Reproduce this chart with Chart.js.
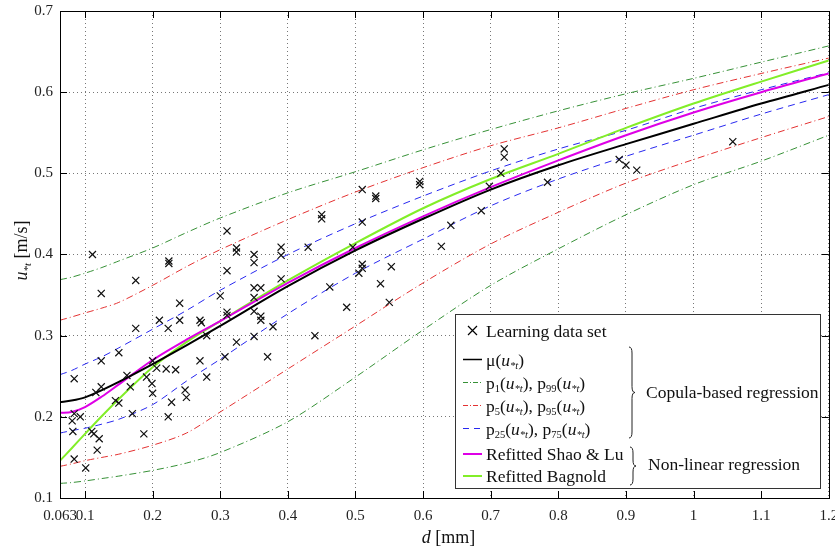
<!DOCTYPE html>
<html>
<head>
<meta charset="utf-8">
<script src="https://cdn.jsdelivr.net/npm/chart.js@4.4.0/dist/chart.umd.min.js"></script>
<style>
  html, body { margin: 0; padding: 0; background: #fff; }
  #wrap { width: 835px; height: 549px; }
</style>
</head>
<body>
<div id="wrap"><canvas id="chart" width="835" height="549"></canvas></div>
<script>
// axis ticks
const xTickVals = [0.063, 0.1, 0.2, 0.3, 0.4, 0.5, 0.6, 0.7, 0.8, 0.9, 1, 1.1, 1.2];
const yTickVals = [0.1, 0.2, 0.3, 0.4, 0.5, 0.6, 0.7];

// grain sizes where the fitted curves are sampled
const curveD   = [0.063, 0.08, 0.1, 0.125, 0.15, 0.2, 0.25, 0.3, 0.4, 0.5, 0.6, 0.7, 0.8, 0.9, 1.0, 1.1, 1.2];
const muU      = [0.218, 0.220, 0.224, 0.233, 0.243, 0.265, 0.288, 0.312, 0.361, 0.405, 0.444, 0.480, 0.510, 0.536, 0.561, 0.586, 0.609];
const p1U      = [0.118, 0.119, 0.121, 0.124, 0.127, 0.134, 0.143, 0.156, 0.194, 0.249, 0.307, 0.362, 0.407, 0.449, 0.486, 0.515, 0.547];
const p99U     = [0.369, 0.372, 0.377, 0.384, 0.392, 0.408, 0.427, 0.445, 0.476, 0.502, 0.529, 0.554, 0.577, 0.598, 0.617, 0.637, 0.657];
const p5U      = [0.139, 0.142, 0.146, 0.150, 0.154, 0.165, 0.180, 0.206, 0.259, 0.312, 0.365, 0.413, 0.452, 0.488, 0.517, 0.544, 0.570];
const p95U     = [0.319, 0.323, 0.328, 0.334, 0.341, 0.362, 0.385, 0.406, 0.443, 0.477, 0.507, 0.534, 0.556, 0.580, 0.603, 0.623, 0.642];
const p25U     = [0.180, 0.183, 0.186, 0.191, 0.197, 0.215, 0.244, 0.271, 0.327, 0.377, 0.419, 0.460, 0.493, 0.521, 0.547, 0.573, 0.597];
const p75U     = [0.252, 0.257, 0.265, 0.274, 0.285, 0.308, 0.331, 0.356, 0.400, 0.438, 0.472, 0.503, 0.530, 0.553, 0.580, 0.603, 0.624];
const shaoLuU  = [0.205, 0.206, 0.212, 0.225, 0.240, 0.270, 0.295, 0.318, 0.365, 0.408, 0.447, 0.483, 0.516, 0.547, 0.575, 0.600, 0.623];
const bagnoldU = [0.146, 0.161, 0.179, 0.201, 0.222, 0.261, 0.292, 0.318, 0.368, 0.414, 0.457, 0.493, 0.524, 0.556, 0.586, 0.613, 0.639];

// learning data set
const learnD = [0.111, 0.224, 0.224, 0.175, 0.124, 0.240, 0.210, 0.240, 0.223, 0.175,
                0.124, 0.150, 0.084, 0.200, 0.206, 0.220, 0.234, 0.162, 0.167, 0.124,
                0.116, 0.191, 0.199, 0.200, 0.145, 0.150, 0.170, 0.228, 0.248, 0.250,
                0.223, 0.084, 0.081, 0.093, 0.082, 0.110, 0.113, 0.121, 0.118, 0.084,
                0.101, 0.187, 0.270, 0.280, 0.307, 0.370, 0.310, 0.324, 0.324, 0.350,
                0.350, 0.390, 0.390, 0.430, 0.310, 0.390, 0.300, 0.350, 0.360, 0.350,
                0.350, 0.360, 0.360, 0.378, 0.310, 0.310, 0.270, 0.272, 0.280, 0.324,
                0.350, 0.440, 0.510, 0.530, 0.530, 0.595, 0.595, 0.450, 0.450, 0.510,
                0.686, 0.641, 0.627, 0.496, 0.510, 0.510, 0.505, 0.553, 0.537, 0.462,
                0.550, 0.487, 0.720, 0.720, 0.715, 0.698, 0.784, 0.890, 0.900, 0.916,
                1.058];
const learnU = [0.400, 0.392, 0.389, 0.368, 0.352, 0.340, 0.319, 0.319, 0.309, 0.309,
                0.269, 0.279, 0.247, 0.269, 0.260, 0.259, 0.258, 0.251, 0.237, 0.237,
                0.230, 0.249, 0.241, 0.229, 0.220, 0.217, 0.204, 0.218, 0.233, 0.224,
                0.200, 0.204, 0.195, 0.200, 0.182, 0.182, 0.179, 0.173, 0.159, 0.148,
                0.137, 0.179, 0.269, 0.249, 0.274, 0.274, 0.429, 0.408, 0.403, 0.400,
                0.390, 0.409, 0.399, 0.409, 0.380, 0.370, 0.349, 0.359, 0.359, 0.347,
                0.330, 0.324, 0.319, 0.311, 0.329, 0.325, 0.319, 0.316, 0.300, 0.292,
                0.299, 0.300, 0.480, 0.472, 0.469, 0.490, 0.486, 0.449, 0.444, 0.440,
                0.454, 0.436, 0.410, 0.409, 0.388, 0.383, 0.377, 0.385, 0.364, 0.360,
                0.341, 0.335, 0.530, 0.520, 0.500, 0.484, 0.489, 0.517, 0.510, 0.504,
                0.539];

const C_GREEN = 'rgb(55,145,55)';
const C_RED = 'rgb(228,50,50)';
const C_BLUE = 'rgb(40,40,240)';
const C_MAG = 'rgb(222,0,230)';
const C_LIME = 'rgb(130,238,40)';
const DASHDOT = [7, 3, 1, 3];
const DASH = [7, 5];
const FONT = '"Liberation Serif", "DejaVu Serif", serif';

const pts = ys => curveD.map((d, i) => ({ x: d, y: ys[i] }));

function lineSet(label, ys, color, width, dash) {
  return {
    type: 'line', label, data: pts(ys),
    borderColor: color, borderWidth: width, borderDash: dash || [],
    pointRadius: 0, fill: false, tension: 0.3
  };
}

// rich text: parts [{t, it, sub}]
function drawRich(ctx, x, y, parts, size, measureOnly) {
  let cx = x;
  parts.forEach(p => {
    const fs = p.sub ? size * 0.6 : size;
    ctx.font = (p.it ? 'italic ' : '') + fs + 'px ' + FONT;
    if (!measureOnly) ctx.fillText(p.t, cx, y + (p.sub ? size * 0.22 : 0));
    cx += ctx.measureText(p.t).width;
  });
  return cx - x;
}

const U = [{ t: 'u', it: true }, { t: '*t', it: true, sub: true }];
const pPair = (a, b) => [{ t: 'p' }, { t: a, sub: true }, { t: '(' }, ...U, { t: '), p' }, { t: b, sub: true }, { t: '(' }, ...U, { t: ')' }];

function brace(ctx, x, y1, y2, w) {
  const ym = (y1 + y2) / 2, r = w / 2;
  ctx.beginPath();
  ctx.moveTo(x, y1);
  ctx.quadraticCurveTo(x + r, y1, x + r, y1 + r * 2);
  ctx.lineTo(x + r, ym - r * 2);
  ctx.quadraticCurveTo(x + r, ym, x + w, ym);
  ctx.quadraticCurveTo(x + r, ym, x + r, ym + r * 2);
  ctx.lineTo(x + r, y2 - r * 2);
  ctx.quadraticCurveTo(x + r, y2, x, y2);
  ctx.stroke();
}

const framePlugin = {
  id: 'frame',
  afterDraw(chart) {
    const ctx = chart.ctx, a = chart.chartArea;
    const xs = chart.scales.x, ys = chart.scales.y;
    ctx.save();
    // box + inward ticks
    ctx.strokeStyle = '#000';
    ctx.lineWidth = 1;
    ctx.strokeRect(Math.round(a.left) + 0.5, Math.round(a.top) + 0.5, Math.round(a.right - a.left), Math.round(a.bottom - a.top));
    ctx.beginPath();
    xTickVals.forEach(v => {
      const px = Math.round(xs.getPixelForValue(v)) + 0.5;
      ctx.moveTo(px, a.bottom); ctx.lineTo(px, a.bottom - 7);
      ctx.moveTo(px, a.top); ctx.lineTo(px, a.top + 7);
    });
    yTickVals.forEach(v => {
      const py = Math.round(ys.getPixelForValue(v)) + 0.5;
      ctx.moveTo(a.left, py); ctx.lineTo(a.left + 7, py);
      ctx.moveTo(a.right, py); ctx.lineTo(a.right - 7, py);
    });
    ctx.stroke();

    // axis titles
    ctx.fillStyle = '#111';
    ctx.textBaseline = 'alphabetic';
    const xt = [{ t: 'd', it: true }, { t: ' [mm]' }];
    const wx = drawRich(ctx, 0, 0, xt, 18, true);
    drawRich(ctx, (a.left + a.right) / 2 - wx / 2 + 4, 543, xt, 18);
    const yt = [...U, { t: ' [m/s]' }];
    const wy = drawRich(ctx, 0, 0, yt, 18, true);
    ctx.save();
    ctx.translate(27, (a.top + a.bottom) / 2 - 4);
    ctx.rotate(-Math.PI / 2);
    drawRich(ctx, -wy / 2, 0, yt, 18);
    ctx.restore();

    // legend
    ctx.fillStyle = '#fff';
    ctx.fillRect(455.5, 314.5, 365, 174);
    ctx.strokeStyle = '#333';
    ctx.lineWidth = 1;
    ctx.strokeRect(455.5, 314.5, 365, 174);

    const rows = [
      { y: 330.5, marker: true, parts: [{ t: 'Learning data set' }] },
      { y: 359.5, color: '#000', w: 1.5, dash: [], parts: [{ t: 'μ(' }, ...U, { t: ')' }] },
      { y: 382.5, color: C_GREEN, w: 1, dash: [5, 2, 1, 2], parts: pPair('1', '99') },
      { y: 405.5, color: C_RED, w: 1, dash: [5, 2, 1, 2], parts: pPair('5', '95') },
      { y: 428.5, color: C_BLUE, w: 1, dash: [6, 5], parts: pPair('25', '75') },
      { y: 454, color: C_MAG, w: 2, dash: [], parts: [{ t: 'Refitted Shao & Lu' }] },
      { y: 476, color: C_LIME, w: 2, dash: [], parts: [{ t: 'Refitted Bagnold' }] }
    ];
    rows.forEach(r => {
      if (r.marker) {
        ctx.strokeStyle = '#000'; ctx.lineWidth = 1.2; ctx.setLineDash([]);
        ctx.beginPath();
        ctx.moveTo(468, r.y - 4.5); ctx.lineTo(477, r.y + 4.5);
        ctx.moveTo(477, r.y - 4.5); ctx.lineTo(468, r.y + 4.5);
        ctx.stroke();
      } else {
        ctx.strokeStyle = r.color; ctx.lineWidth = r.w; ctx.setLineDash(r.dash);
        ctx.beginPath(); ctx.moveTo(463, r.y); ctx.lineTo(482, r.y); ctx.stroke();
        ctx.setLineDash([]);
      }
      ctx.fillStyle = '#111';
      drawRich(ctx, 486, r.y + 6, r.parts, 17.5);
    });
    ctx.strokeStyle = '#222'; ctx.lineWidth = 1;
    brace(ctx, 629, 347, 438, 6);
    brace(ctx, 630, 447, 485, 6);
    ctx.fillStyle = '#111';
    drawRich(ctx, 646, 398, [{ t: 'Copula-based regression' }], 17.5);
    drawRich(ctx, 648, 470, [{ t: 'Non-linear regression' }], 17.5);
    ctx.restore();
  }
};

Chart.defaults.font.family = FONT;

new Chart(document.getElementById('chart'), {
  type: 'scatter',
  data: {
    datasets: [
      {
        type: 'scatter', label: 'Learning data set',
        data: learnD.map((d, i) => ({ x: d, y: learnU[i] })),
        pointStyle: 'crossRot', pointRadius: 5, borderColor: '#111',
        backgroundColor: '#111', pointBorderWidth: 1.2
      },
      lineSet('mu', muU, '#000', 2),
      lineSet('Refitted Shao & Lu', shaoLuU, C_MAG, 2),
      lineSet('Refitted Bagnold', bagnoldU, C_LIME, 2),
      lineSet('p25', p25U, C_BLUE, 1, DASH),
      lineSet('p75', p75U, C_BLUE, 1, DASH),
      lineSet('p5', p5U, C_RED, 1, DASHDOT),
      lineSet('p95', p95U, C_RED, 1, DASHDOT),
      lineSet('p1', p1U, C_GREEN, 1, DASHDOT),
      lineSet('p99', p99U, C_GREEN, 1, DASHDOT)
    ]
  },
  options: {
    responsive: false,
    animation: false,
    layout: { padding: { top: 11, right: 4, left: 0, bottom: 0 } },
    plugins: { legend: { display: false }, tooltip: { enabled: false } },
    scales: {
      x: {
        type: 'linear', min: 0.063, max: 1.2,
        afterBuildTicks: s => { s.ticks = xTickVals.map(v => ({ value: v })); },
        afterFit: s => { s.height = 51; s.paddingLeft = 0; s.paddingRight = 0; },
        ticks: { callback: v => String(v), autoSkip: false, maxRotation: 0, padding: 9, color: '#222', font: { size: 15 } },
        grid: { color: '#777', drawTicks: false, lineWidth: 1 },
        border: { display: true, color: '#000', width: 1, dash: [1, 3] }
      },
      y: {
        type: 'linear', min: 0.1, max: 0.7,
        afterBuildTicks: s => { s.ticks = yTickVals.map(v => ({ value: v })); },
        afterFit: s => { s.width = 60; s.paddingTop = 0; s.paddingBottom = 0; },
        ticks: { callback: v => String(v), autoSkip: false, padding: 7, color: '#222', font: { size: 15 } },
        grid: { color: '#777', drawTicks: false, lineWidth: 1 },
        border: { display: true, color: '#000', width: 1, dash: [1, 3] }
      }
    }
  },
  plugins: [framePlugin]
});
</script>
</body>
</html>
